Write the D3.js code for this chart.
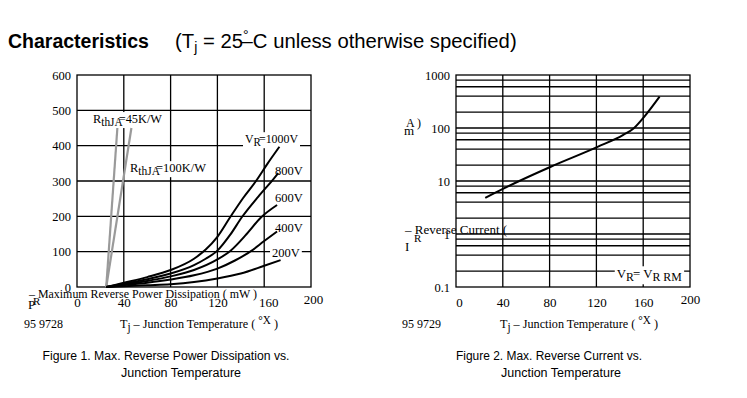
<!DOCTYPE html>
<html>
<head>
<meta charset="utf-8">
<script src="https://cdn.jsdelivr.net/npm/d3@7"></script>
<style>
	body { margin: 0; background: #fff; }
	svg { display: block; }
	.serif { font-family: "Liberation Serif", "Times New Roman", serif; fill: #000; }
	.sans { font-family: "Liberation Sans", Arial, sans-serif; fill: #000; }
	.grid { stroke: #000; stroke-width: 1.3; fill: none; }
</style>
</head>
<body>
<svg id="chart-svg" width="747" height="398"></svg>
<script>
// tick values
const TEMP_TICKS = [0, 40, 80, 120, 160, 200];
const POWER_TICKS = [0, 100, 200, 300, 400, 500, 600];
const CURRENT_TICKS = [0.1, 1, 10, 100, 1000];
const CURRENT_GRID = [0.2, 0.4, 0.6, 0.8, 1, 2, 4, 6, 8, 10, 20, 40, 60, 80, 100, 200, 400, 600, 800];

// figure 1: [Tj (°C), PR (mW)]
const RTH45 = [[25, 0], [34.5, 450]];
const RTH100 = [[25, 0], [46.5, 450]];
const VR1000 = [[25, 0], [40, 12], [60, 28], [80, 48], [100, 80], [110, 106], [120, 142], [131, 198], [142, 252], [153, 300], [163, 350], [173, 397]];
const VR800 = [[25, 0], [40, 9], [60, 22], [80, 38], [100, 62], [110, 80], [120, 103], [131, 148], [141, 198], [155, 256], [167, 302], [172, 322]];
const VR600 = [[25, 0], [40, 7], [60, 17], [80, 30], [100, 48], [120, 78], [131, 102], [145, 150], [157, 196], [171, 232]];
const VR400 = [[25, 0], [40, 5], [60, 12], [80, 21], [100, 33], [120, 52], [135, 75], [148, 100], [160, 130], [171, 157]];
const VR200 = [[25, 0], [40, 2], [60, 5], [80, 8], [100, 14], [120, 24], [140, 38], [160, 60], [174, 76]];

// figure 2: reverse current (µA) vs Tj
const IR_TEMP = [25, 40, 81, 121, 143, 152, 161, 174];
const IR_VALUE = [4.8, 7.1, 18.6, 44, 74, 99, 164, 390];

const svg = d3.select('#chart-svg');

// writes a text built of parts, sub parts dropped a bit; optional white box behind
function richText(g, x, y, parts, size, bg, width) {
	const t = g.append('text').attr('class', 'serif').attr('x', x).attr('y', y).style('font-size', size + 'px');
	let shift = 0;
	parts.forEach((p) => {
		const want = p.sub ? 3 : p.sup ? -4 : 0;
		const ts = t.append('tspan').text(p.t).attr('dy', want - shift);
		if (p.sub || p.sup) ts.style('font-size', size * 0.92 + 'px');
		if (p.dx) ts.attr('dx', p.dx);
		shift = want;
	});
	if (width) t.attr('textLength', width).attr('lengthAdjust', 'spacingAndGlyphs');
	if (bg) {
		const b = t.node().getBBox();
		g.insert('rect', () => t.node())
			.attr('x', b.x - 2).attr('y', b.y)
			.attr('width', b.width + 4).attr('height', b.height)
			.attr('fill', '#fff');
	}
	return t;
}

// title
svg.append('text').attr('class', 'sans').attr('x', 8).attr('y', 48)
	.style('font-size', '19.5px').style('font-weight', 'bold').text('Characteristics');
const ttl = svg.append('text').attr('class', 'sans').attr('x', 175).attr('y', 48).style('font-size', '20.3px');
ttl.append('tspan').text('(T');
ttl.append('tspan').text('j').attr('dy', 4).style('font-size', '14px');
ttl.append('tspan').text(' = 25').attr('dy', -4);
ttl.append('tspan').text('°').attr('dy', -8).style('font-size', '14px');
ttl.append('tspan').text('–C unless otherwise specified)').attr('dy', 8).attr('dx', -7);

// ---------- Figure 1 ----------
const g1 = svg.append('g');
const x1 = d3.scaleLinear().domain([0, 200]).range([77, 311]);
const y1 = d3.scaleLinear().domain([0, 600]).range([287, 75]);

g1.selectAll('.vgrid').data(TEMP_TICKS.slice(1, -1)).enter().append('line')
	.attr('class', 'grid').attr('x1', (d) => x1(d)).attr('x2', (d) => x1(d))
	.attr('y1', y1(600)).attr('y2', y1(0));
g1.selectAll('.hgrid').data(POWER_TICKS.slice(1, -1)).enter().append('line')
	.attr('class', 'grid').attr('y1', (d) => y1(d)).attr('y2', (d) => y1(d))
	.attr('x1', x1(0)).attr('x2', x1(200));

// labels with white boxes over the grid
richText(g1, x1(13.7), y1(464), [{ t: 'R' }, { t: 'thJA', sub: true }, { t: '=45K/W', dx: -4 }], 12.5, true, 69);
richText(g1, x1(45.3), y1(325), [{ t: 'R' }, { t: 'thJA', sub: true }, { t: '=100K/W', dx: -4 }], 12.5, true, 76);
richText(g1, x1(143.6), y1(407), [{ t: 'V' }, { t: 'R', sub: true }, { t: '=1000V', dx: -2 }], 12.5, true, 53);
richText(g1, x1(169.2), y1(317), [{ t: '800V' }], 12.5, true);
richText(g1, x1(169.2), y1(241), [{ t: '600V' }], 12.5, true);
richText(g1, x1(169.2), y1(156), [{ t: '400V' }], 12.5, true);
richText(g1, x1(166.7), y1(84), [{ t: '200V' }], 12.5, true);

g1.append('rect').attr('class', 'grid')
	.attr('x', x1(0)).attr('y', y1(600))
	.attr('width', x1(200) - x1(0)).attr('height', y1(0) - y1(600));

const line1 = d3.line().x((d) => x1(d[0])).y((d) => y1(d[1])).curve(d3.curveMonotoneX);
[RTH45, RTH100].forEach((s) => {
	g1.append('path').attr('d', line1(s)).attr('fill', 'none').attr('stroke', '#9a9a9a').attr('stroke-width', 2.2);
});
[VR1000, VR800, VR600, VR400, VR200].forEach((s) => {
	g1.append('path').attr('d', line1(s)).attr('fill', 'none').attr('stroke', '#000').attr('stroke-width', 2);
});

const yAxis1 = d3.axisLeft(y1).tickValues(POWER_TICKS).tickSize(0).tickPadding(6);
g1.append('g').attr('transform', 'translate(' + x1(0) + ',0)').call(yAxis1)
	.call((a) => a.select('.domain').remove())
	.selectAll('text').attr('class', 'serif').style('font-size', '12.5px').attr('fill', '#000');
const xAxis1 = d3.axisBottom(x1).tickValues(TEMP_TICKS).tickSize(0).tickPadding(11);
g1.append('g').attr('transform', 'translate(0,' + y1(0) + ')').call(xAxis1)
	.call((a) => a.select('.domain').remove())
	.selectAll('text').attr('class', 'serif').style('font-size', '13px').attr('fill', '#000')
	.attr('dx', (d) => (d === 160 ? 4 : d === 200 ? 2 : 0))
	.attr('y', (d) => (d === 200 ? 8 : 11));

g1.append('text').attr('class', 'serif').attr('x', 29).attr('y', 298).style('font-size', '13px')
	.attr('textLength', 228).attr('lengthAdjust', 'spacingAndGlyphs')
	.text('– Maximum Reverse Power Dissipation ( mW )');
g1.append('text').attr('class', 'serif').attr('x', 28).attr('y', 309).style('font-size', '13px').text('P');
g1.append('text').attr('class', 'serif').attr('x', 33).attr('y', 305).style('font-size', '11px').text('R');
g1.append('text').attr('class', 'serif').attr('x', 24).attr('y', 328).style('font-size', '12px').text('95 9728');
richText(g1, 120, 328, [{ t: 'T' }, { t: 'j', sub: true }, { t: ' – Junction Temperature ( ' }, { t: '°X', sup: true }, { t: ' )' }], 13, false, 158);

// ---------- Figure 2 ----------
const g2 = svg.append('g');
const x2 = d3.scaleLinear().domain([0, 200]).range([456, 690]);
const y2 = d3.scaleLog().domain([0.1, 1000]).range([287, 75]);

g2.selectAll('.vgrid').data(TEMP_TICKS.slice(1, -1)).enter().append('line')
	.attr('class', 'grid').attr('x1', (d) => x2(d)).attr('x2', (d) => x2(d))
	.attr('y1', y2(1000)).attr('y2', y2(0.1));
g2.selectAll('.hgrid').data(CURRENT_GRID).enter().append('line')
	.attr('class', 'grid').attr('y1', (d) => y2(d)).attr('y2', (d) => y2(d))
	.attr('x1', x2(0)).attr('x2', x2(200));

richText(g2, x2(137.4), y2(0.146), [{ t: 'V' }, { t: 'R', sub: true }, { t: '= V', dx: -1 }, { t: 'R RM', sub: true }], 13, true, 65);

g2.append('rect').attr('class', 'grid')
	.attr('x', x2(0)).attr('y', y2(1000))
	.attr('width', x2(200) - x2(0)).attr('height', y2(0.1) - y2(1000));

const line2 = d3.line().x((d) => x2(d[0])).y((d) => y2(d[1])).curve(d3.curveMonotoneX);
g2.append('path').attr('d', line2(d3.zip(IR_TEMP, IR_VALUE)))
	.attr('fill', 'none').attr('stroke', '#000').attr('stroke-width', 2);

const yAxis2 = d3.axisLeft(y2).tickValues(CURRENT_TICKS).tickFormat((d) => String(d)).tickSize(0).tickPadding(6);
g2.append('g').attr('transform', 'translate(' + x2(0) + ',0)').call(yAxis2)
	.call((a) => a.select('.domain').remove())
	.selectAll('text').attr('class', 'serif').style('font-size', '12.5px').attr('fill', '#000');
const xAxis2 = d3.axisBottom(x2).tickValues(TEMP_TICKS).tickSize(0).tickPadding(11);
g2.append('g').attr('transform', 'translate(0,' + y2(0.1) + ')').call(xAxis2)
	.call((a) => a.select('.domain').remove())
	.selectAll('text').attr('class', 'serif').style('font-size', '13px').attr('fill', '#000')
	.attr('dx', (d) => (d === 0 ? 3 : 0))
	.attr('y', (d) => (d === 200 ? 8 : 11));

g2.append('text').attr('class', 'serif').attr('x', 406).attr('y', 127).style('font-size', '12px').text('A )');
g2.append('text').attr('class', 'serif').attr('x', 404).attr('y', 135).style('font-size', '13px').text('m');
g2.append('text').attr('class', 'serif').attr('x', 405).attr('y', 234).style('font-size', '13px').text('– Reverse Current (');
g2.append('text').attr('class', 'serif').attr('x', 405).attr('y', 251).style('font-size', '13px').text('I');
g2.append('text').attr('class', 'serif').attr('x', 414).attr('y', 242).style('font-size', '11px').text('R');
g2.append('text').attr('class', 'serif').attr('x', 402).attr('y', 328).style('font-size', '12px').text('95 9729');
richText(g2, 500, 328, [{ t: 'T' }, { t: 'j', sub: true }, { t: ' – Junction Temperature ( ' }, { t: '°X', sup: true }, { t: ' )' }], 13, false, 158);

// captions
const cap = [
	['Figure 1. Max. Reverse Power Dissipation vs.', 166, 360, 247],
	['Junction Temperature', 181, 377, 120],
	['Figure 2. Max. Reverse Current vs.', 549, 360, 186],
	['Junction Temperature', 561, 377, 120]
];
cap.forEach((c) => {
	svg.append('text').attr('class', 'sans').attr('x', c[1]).attr('y', c[2])
		.attr('text-anchor', 'middle').style('font-size', '12.5px')
		.attr('textLength', c[3]).attr('lengthAdjust', 'spacingAndGlyphs').text(c[0]);
});
</script>
</body>
</html>
